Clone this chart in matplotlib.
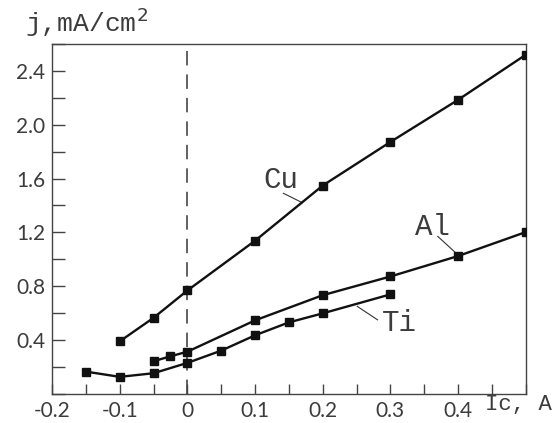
import matplotlib.pyplot as plt
from matplotlib.ticker import MultipleLocator

# data
cu_x = [-0.1, -0.05, 0.0, 0.1, 0.2, 0.3, 0.4, 0.5]
cu_y = [0.39, 0.565, 0.768, 1.138, 1.548, 1.872, 2.185, 2.52]

al_x = [-0.05, -0.025, 0.0, 0.1, 0.2, 0.3, 0.4, 0.5]
al_y = [0.242, 0.279, 0.313, 0.546, 0.733, 0.872, 1.024, 1.202]

ti_x = [-0.15, -0.1, -0.05, 0.0, 0.05, 0.1, 0.15, 0.2, 0.3]
ti_y = [0.165, 0.126, 0.153, 0.23, 0.321, 0.435, 0.531, 0.598, 0.739]

x_ticks = [-0.2, -0.1, 0.0, 0.1, 0.2, 0.3, 0.4]
x_labels = ['-0.2', '-0.1', '0', '0.1', '0.2', '0.3', '0.4']
y_ticks = [0.4, 0.8, 1.2, 1.6, 2.0, 2.4]
y_labels = ['0.4', '0.8', '1.2', '1.6', '2.0', '2.4']

mono = 'Liberation Mono'
text_col = '#3c3c3c'

fig = plt.figure(figsize=(5.54, 4.23), dpi=100)
ax = fig.add_axes([0.094, 0.069, 0.855, 0.827])

ax.axvline(0, color='#555555', lw=1.3, dashes=(8, 5), zorder=1)

for xs, ys in [(cu_x, cu_y), (al_x, al_y), (ti_x, ti_y)]:
    ax.plot(xs, ys, color='#111111', lw=1.7, marker='s', ms=5.2, zorder=3)

ax.set_xlim(-0.2, 0.5)
ax.set_ylim(0, 2.6)

ax.set_xticks(x_ticks)
ax.set_xticklabels(x_labels)
ax.set_yticks(y_ticks)
ax.set_yticklabels(y_labels)
ax.xaxis.set_minor_locator(MultipleLocator(0.05))
ax.yaxis.set_minor_locator(MultipleLocator(0.2))

ax.tick_params(axis='x', which='both', direction='in', length=7, width=1,
               color='#444444', top=False, pad=5)
ax.tick_params(axis='y', which='both', direction='in', length=9, width=1,
               color='#444444', right=False, pad=5)
for lab in ax.get_xticklabels() + ax.get_yticklabels():
    lab.set_fontfamily('Lato')
    lab.set_fontsize(15)
    lab.set_color(text_col)

for s in ax.spines.values():
    s.set_color('#444444')
    s.set_linewidth(1)

# curve labels with leader lines
ax.text(0.112, 1.59, 'Cu', family=mono, fontsize=21, color=text_col,
        ha='left', va='center')
ax.plot([0.142, 0.17], [1.49, 1.42], color='#333333', lw=0.8)

ax.text(0.336, 1.24, 'Al', family=mono, fontsize=21, color=text_col,
        ha='left', va='center')
ax.plot([0.37, 0.396], [1.17, 1.05], color='#333333', lw=0.8)

ax.text(0.288, 0.53, 'Ti', family=mono, fontsize=21, color=text_col,
        ha='left', va='center')
ax.plot([0.251, 0.281], [0.65, 0.55], color='#333333', lw=0.8)

fig.text(0.045, 0.948, 'j,mA/cm$^2$', family=mono, fontsize=19,
         color=text_col, ha='left', va='center')
fig.text(0.876, 0.044, 'Ic, A', family=mono, fontsize=16,
         color=text_col, ha='left', va='center')

fig.savefig('out.png', dpi=100)
